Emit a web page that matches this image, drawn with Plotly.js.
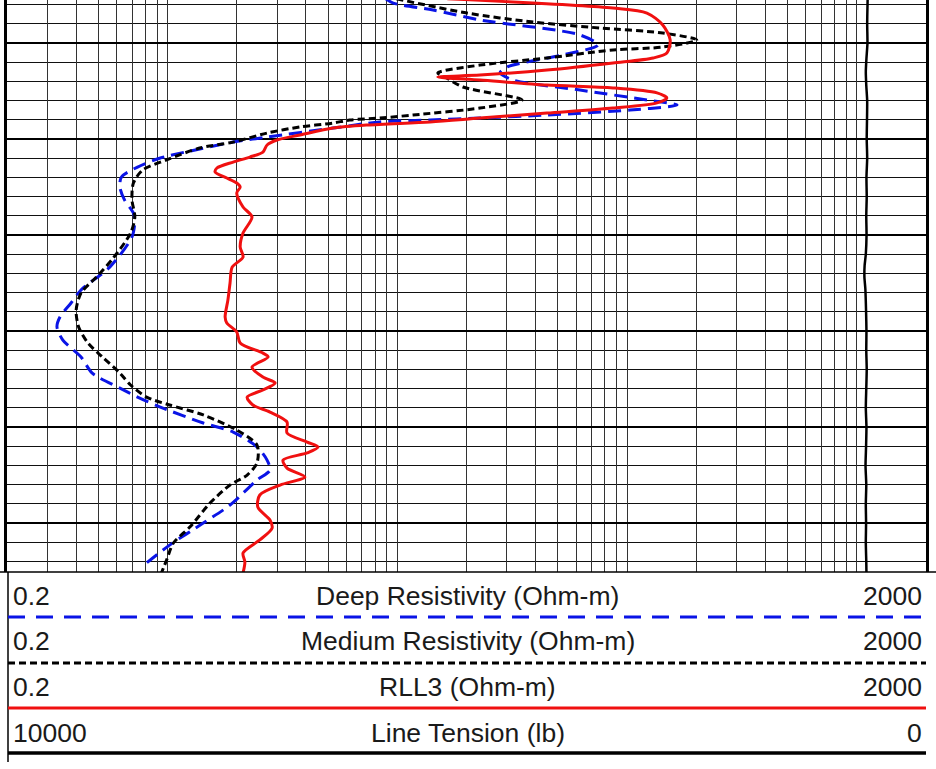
<!DOCTYPE html>
<html>
<head>
<meta charset="utf-8">
<script src="https://cdn.plot.ly/plotly-3.0.1.min.js"></script>
<style>html,body{margin:0;padding:0;background:#fff;}#chart{width:936px;height:769px;}</style>
</head>
<body>
<div id="chart"></div>
<script>
// ---- Data (depth in ft, resistivity in Ohm-m, tension in lb) ----
const depthDeep = [1027.0,1029.2,1032.8,1038.0,1045.8,1051.0,1056.2,1062.5,1065.6,1069.3,1074.5,1079.7,1082.3,1084.9,1087.5,1089.1,1090.1,1091.1,1094.3,1099.0,1101.6,1105.2,1109.9,1114.6,1119.8,1125.0,1131.8,1138.5,1142.2,1151.0,1166.7,1178.6,1185.4,1192.7,1197.9,1204.7,1213.5,1221.9,1229.7,1234.4,1239.6,1247.9,1252.6,1260.4,1267.2,1272.4,1277.6,1290.6,1300.0,1311.5,1320.8];
const deepRes = [8.9,9.6,14.3,22.9,62.4,74.7,52.6,30.0,28.0,31.9,62.4,122,165,103,44.8,22.9,13.9,8.4,5.25,2.71,1.93,1.38,0.93,0.74,0.63,0.62,0.65,0.71,0.72,0.70,0.56,0.42,0.38,0.34,0.33,0.35,0.42,0.47,0.62,0.74,0.93,1.43,1.93,2.45,2.71,2.79,2.45,1.87,1.43,1.02,0.81];

const depthMed = [1027.0,1034.4,1039.1,1042.2,1044.8,1048.4,1052.1,1053.6,1057.8,1061.5,1065.6,1068.2,1072.9,1079.7,1083.9,1087.5,1089.1,1090.1,1091.7,1093.7,1096.9,1101.6,1104.7,1110.9,1116.1,1122.9,1131.8,1140.6,1149.0,1162.0,1171.9,1180.2,1189.1,1197.9,1206.2,1213.5,1221.9,1228.1,1234.4,1238.5,1243.7,1251.6,1259.4,1268.7,1275.0,1280.2,1289.6,1302.1,1310.4,1319.3,1326.0];
const medRes = [9.9,20.1,39.0,76.2,143,201,143,86.8,44.8,22.9,15.0,16.4,19.3,34.9,22.9,11.7,8.4,6.2,5.25,3.77,2.71,1.93,1.38,0.99,0.78,0.71,0.70,0.72,0.69,0.58,0.49,0.42,0.40,0.41,0.45,0.52,0.62,0.69,0.81,1.02,1.43,2.0,2.45,2.45,2.22,1.87,1.53,1.25,1.06,0.99,0.94];

const depthRLL3 = [1027.0,1031.8,1034.4,1040.6,1048.4,1055.2,1057.8,1060.4,1064.1,1066.7,1067.7,1069.3,1071.9,1073.4,1076.0,1078.6,1081.2,1083.9,1086.5,1089.1,1091.1,1092.7,1094.3,1097.9,1100.5,1103.1,1106.8,1109.4,1112.0,1115.1,1117.2,1120.3,1122.9,1125.0,1128.1,1135.4,1140.6,1149.0,1156.2,1161.5,1166.7,1175.0,1183.9,1192.7,1195.8,1200.5,1206.2,1211.5,1213.5,1218.8,1224.0,1227.1,1230.7,1234.4,1238.5,1242.2,1247.4,1253.1,1257.8,1260.4,1263.5,1267.2,1271.4,1276.0,1280.2,1285.4,1291.7,1298.4,1302.6,1308.8,1315.6,1320.3,1326.0];
const rll3 = [16.5,86.8,122,143,154,149,130,86.8,44.8,22.9,15.0,22.9,44.8,86.8,135,149,135,86.8,44.8,22.9,13.9,7.4,5.25,3.77,2.99,2.71,2.60,2.28,1.93,1.64,1.61,1.81,2.0,2.07,2.0,2.13,2.33,2.13,2.07,2.13,1.91,1.87,1.83,1.78,1.81,2.0,2.07,2.60,2.74,2.33,2.60,2.94,2.60,2.22,2.35,2.79,3.31,3.31,4.05,4.52,4.05,3.18,3.31,3.96,3.09,2.52,2.47,2.79,2.85,2.52,2.13,2.17,2.13];

const depthTension = [1027.0,1040,1050,1058,1065,1072,1080,1090,1100,1110,1120,1130,1140,1150,1160,1166,1172,1178,1190,1200,1210,1220,1230,1240,1250,1260,1270,1280,1290,1300,1310,1320,1326];
const tension = [635,640,637,648,655,650,640,642,645,640,648,645,650,647,655,668,670,660,652,648,650,645,650,655,648,652,658,650,655,652,655,650,648];

// ---- Scales / header labels ----
const resRange = [0.2, 2000];
const tensionRange = [10000, 0];
const depthRange = [1325.5, 1027.6];
const headerRows = [
  {left: '0.2', name: 'Deep Resistivity (Ohm-m)', right: '2000'},
  {left: '0.2', name: 'Medium Resistivity (Ohm-m)', right: '2000'},
  {left: '0.2', name: 'RLL3 (Ohm-m)', right: '2000'},
  {left: '10000', name: 'Line Tension (lb)', right: '0'}
];

// ---- Layout geometry (pixels) ----
const W = 936, H = 769, ML = 7, MR = 10, MT = 0, MB = 197;
const PW = W - ML - MR, PH = H - MT - MB;
const px = x => (x - ML) / PW;          // pixel x -> paper x
const py = y => (PH + MT - y) / PH;      // pixel y -> paper y

const traces = [
  {x: deepRes, y: depthDeep, type: 'scatter', mode: 'lines', name: 'Deep Resistivity',
   line: {color: '#0a14e6', width: 3, dash: '13px,7px', shape: 'spline', smoothing: 0.8}},
  {x: medRes, y: depthMed, type: 'scatter', mode: 'lines', name: 'Medium Resistivity',
   line: {color: '#000000', width: 3, dash: '7px,4px', shape: 'spline', smoothing: 0.8}},
  {x: rll3, y: depthRLL3, type: 'scatter', mode: 'lines', name: 'RLL3',
   line: {color: '#f01010', width: 3, shape: 'spline', smoothing: 0.8}},
  {x: tension, y: depthTension, xaxis: 'x2', type: 'scatter', mode: 'lines', name: 'Line Tension',
   line: {color: '#000000', width: 2.5, shape: 'spline', smoothing: 0.6}}
];

const lineY = [617, 663, 708, 753];
const lineStyles = [
  {color: '#0a14e6', width: 3, dash: '17px,11px'},
  {color: '#000000', width: 3, dash: '7px,4px'},
  {color: '#f01010', width: 3, dash: 'solid'},
  {color: '#000000', width: 3.5, dash: 'solid'}
];
const textY = [596, 641, 687, 733];

const shapes = [
  // bottom edge of the track
  {type: 'line', xref: 'paper', yref: 'paper', x0: px(0), x1: px(936), y0: py(572), y1: py(572),
   line: {color: '#000', width: 1.5}},
  // left edge of the header box
  {type: 'line', xref: 'paper', yref: 'paper', x0: px(8), x1: px(8), y0: py(572), y1: py(762),
   line: {color: '#000', width: 1.5}}
];
lineY.forEach((y, i) => shapes.push({type: 'line', xref: 'paper', yref: 'paper',
  x0: px(8), x1: px(926), y0: py(y), y1: py(y), line: lineStyles[i]}));

const font = {family: 'Liberation Sans, Arial, sans-serif', size: 26.5, color: '#1a1a1a'};
const annotations = [];
headerRows.forEach((r, i) => {
  const y = py(textY[i]);
  annotations.push({xref: 'paper', yref: 'paper', x: px(11), y: y, xanchor: 'left', yanchor: 'middle', text: r.left, showarrow: false, font: font});
  annotations.push({xref: 'paper', yref: 'paper', x: px(468), y: y, xanchor: 'center', yanchor: 'middle', text: r.name, showarrow: false, font: font});
  annotations.push({xref: 'paper', yref: 'paper', x: px(924), y: y, xanchor: 'right', yanchor: 'middle', text: r.right, showarrow: false, font: font});
});

const layout = {
  width: W, height: H,
  margin: {l: ML, r: MR, t: MT, b: MB, pad: 0},
  paper_bgcolor: '#fff', plot_bgcolor: '#fff',
  showlegend: false,
  xaxis: {type: 'log', range: [Math.log10(resRange[0]), Math.log10(resRange[1])], dtick: 'D1',
          showgrid: true, gridcolor: '#333', gridwidth: 1, showticklabels: false, ticks: '',
          showline: false, zeroline: false, fixedrange: true},
  xaxis2: {overlaying: 'x', range: tensionRange, showgrid: false, showticklabels: false, ticks: '',
           showline: false, zeroline: false, side: 'top'},
  yaxis: {range: depthRange, tick0: 0, dtick: 50, showgrid: true, gridcolor: '#000', gridwidth: 2.5,
          minor: {tick0: 0, dtick: 10, showgrid: true, gridcolor: '#111', gridwidth: 1, ticks: ''},
          showticklabels: false, ticks: '', zeroline: false,
          showline: true, mirror: true, linecolor: '#000', linewidth: 3},
  shapes: shapes,
  annotations: annotations
};

Plotly.newPlot('chart', traces, layout, {staticPlot: true, displayModeBar: false});
</script>
</body>
</html>
